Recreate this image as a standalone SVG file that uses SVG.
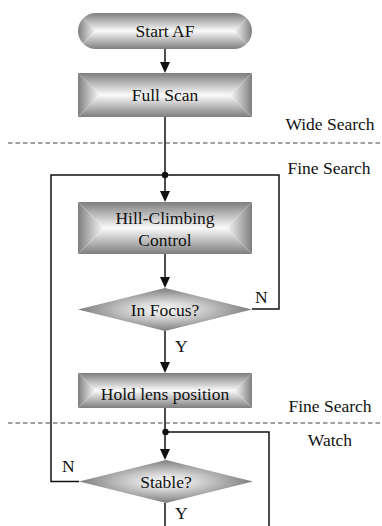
<svg xmlns="http://www.w3.org/2000/svg" width="382" height="526" viewBox="0 0 382 526">
<style>
text{font-family:"Liberation Serif","Times New Roman",serif;font-size:17.5px;fill:#111}
.c{text-anchor:middle}
.ln{fill:none;stroke:#111;stroke-width:1.5}
.dash{fill:none;stroke:#444;stroke-width:1;stroke-dasharray:4.5 3}
</style>
<defs>
<linearGradient id="gT" x1="0" y1="0" x2="0" y2="1"><stop offset="0" stop-color="#7e7e7e"/><stop offset="1" stop-color="#fafafa"/></linearGradient>
<linearGradient id="gB" x1="0" y1="1" x2="0" y2="0"><stop offset="0" stop-color="#7e7e7e"/><stop offset="1" stop-color="#fafafa"/></linearGradient>
<linearGradient id="gL" x1="0" y1="0" x2="1" y2="0"><stop offset="0" stop-color="#7e7e7e"/><stop offset="1" stop-color="#fafafa"/></linearGradient>
<linearGradient id="gR" x1="1" y1="0" x2="0" y2="0"><stop offset="0" stop-color="#7e7e7e"/><stop offset="1" stop-color="#fafafa"/></linearGradient>
<radialGradient id="gD" cx="0.5" cy="0.5" r="0.5"><stop offset="0" stop-color="#fafafa"/><stop offset="0.35" stop-color="#d8d8d8"/><stop offset="1" stop-color="#7e7e7e"/></radialGradient>
<clipPath id="pill"><rect x="78" y="13" width="174" height="36" rx="18" ry="18"/></clipPath>
<marker id="ah" markerUnits="userSpaceOnUse" markerWidth="10" markerHeight="11" viewBox="0 0 10 11" refX="5" refY="11" orient="auto-start-reverse"><path d="M0,0 L10,0 L5,11 Z" fill="#111"/></marker>
</defs>

<g id="dividers">
<line class="dash" x1="8" y1="143" x2="382" y2="143"/>
<line class="dash" x1="8" y1="423" x2="382" y2="423"/>
<text class="c" x="330" y="130">Wide Search</text>
<text class="c" x="329" y="174">Fine Search</text>
<text class="c" x="330" y="412">Fine Search</text>
<text class="c" x="330" y="446">Watch</text>
</g>

<g id="connectors">
<path class="ln" d="M165,49 V62"/>
<path d="M160,62 L170,62 L165,73 Z" fill="#111"/>
<path class="ln" d="M165,117 V191"/>
<path d="M160,191 L170,191 L165,202 Z" fill="#111"/>
<path class="ln" d="M165,254 V277"/>
<path d="M160,277 L170,277 L165,288 Z" fill="#111"/>
<path class="ln" d="M252,309 H279 V175 H165"/>
<path class="ln" d="M79,481.5 H51 V175 H165"/>
<path class="ln" d="M165,331 V362"/>
<path d="M160,362 L170,362 L165,373 Z" fill="#111"/>
<path class="ln" d="M165,408 V449"/>
<path d="M160,449 L170,449 L165,460 Z" fill="#111"/>
<path class="ln" d="M165,432 H269 V526"/>
<path class="ln" d="M165,503 V526"/>
<circle cx="165" cy="175" r="3.2" fill="#111"/>
<circle cx="165.5" cy="432" r="3.2" fill="#111"/>
<text x="255" y="302.5">N</text>
<text x="175" y="352">Y</text>
<text x="62" y="471.5">N</text>
<text x="175" y="519">Y</text>
</g>

<g id="start">
<g clip-path="url(#pill)">
<polygon points="78,13 252,13 234,31 96,31" fill="url(#gT)"/>
<polygon points="78,49 252,49 234,31 96,31" fill="url(#gB)"/>
<polygon points="78,13 96,31 78,49" fill="url(#gL)"/>
<polygon points="252,13 234,31 252,49" fill="url(#gR)"/>
</g>
<text class="c" x="165" y="37">Start AF</text>
</g>

<g id="fullscan">
<polygon points="78,73 252,73 230,95 100,95" fill="url(#gT)"/>
<polygon points="78,117 252,117 230,95 100,95" fill="url(#gB)"/>
<polygon points="78,73 100,95 78,117" fill="url(#gL)"/>
<polygon points="252,73 230,95 252,117" fill="url(#gR)"/>
<text class="c" x="165" y="101">Full Scan</text>
</g>

<g id="hill">
<polygon points="78,202 252,202 226,228 104,228" fill="url(#gT)"/>
<polygon points="78,254 252,254 226,228 104,228" fill="url(#gB)"/>
<polygon points="78,202 104,228 78,254" fill="url(#gL)"/>
<polygon points="252,202 226,228 252,254" fill="url(#gR)"/>
<text class="c" x="165" y="224">Hill-Climbing</text>
<text class="c" x="165" y="246">Control</text>
</g>

<g id="infocus">
<polygon points="165,288 252,309.5 165,331 78,309.5" fill="url(#gD)"/>
<text class="c" x="165" y="316">In Focus?</text>
</g>

<g id="hold">
<polygon points="78,373 252,373 234.5,390.5 95.5,390.5" fill="url(#gT)"/>
<polygon points="78,408 252,408 234.5,390.5 95.5,390.5" fill="url(#gB)"/>
<polygon points="78,373 95.5,390.5 78,408" fill="url(#gL)"/>
<polygon points="252,373 234.5,390.5 252,408" fill="url(#gR)"/>
<text class="c" x="165" y="399.5">Hold lens position</text>
</g>

<g id="stable">
<polygon points="166,460 253,481.5 166,503 79,481.5" fill="url(#gD)"/>
<text class="c" x="166" y="488">Stable?</text>
</g>
</svg>
